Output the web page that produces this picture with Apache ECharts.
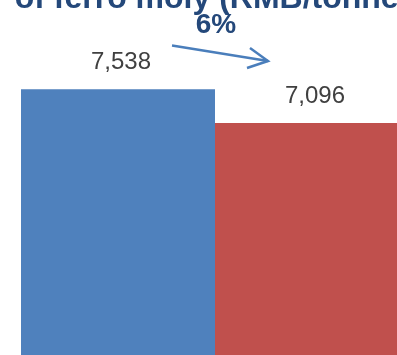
<!DOCTYPE html>
<html>
<head>
<meta charset="utf-8">
<script src="https://cdn.jsdelivr.net/npm/echarts@6/dist/echarts.min.js"></script>
<style>
  html, body { margin: 0; padding: 0; background: #fff; }
  #chart { width: 397px; height: 355px; }
</style>
</head>
<body>
<div id="chart"></div>
<script>
// Ferro moly price, two periods
const categories = ['Before', 'After'];
const prices = [7538, 7096];
const barColors = ['#4F81BD', '#C0504D'];
const changeLabel = '6%';
const titleText = 'of ferro moly (RMB/tonne)';

const navy = '#24487A';

const chart = echarts.init(document.getElementById('chart'), null, { renderer: 'canvas' });

chart.setOption({
  animation: false,
  backgroundColor: '#ffffff',
  // plot area runs past the right and bottom edges of the view
  grid: { left: 21, top: 54, width: 388, height: 610, outerBoundsMode: 'none' },
  xAxis: {
    type: 'category',
    data: categories,
    show: false
  },
  yAxis: {
    type: 'value',
    min: 0,
    max: 8000,
    show: false
  },
  series: [{
    type: 'bar',
    barWidth: '100%',
    clip: false,
    data: prices.map((v, i) => ({ value: v, itemStyle: { color: barColors[i] } })),
    label: {
      show: true,
      position: 'top',
      distance: 15,
      offset: [3, 0],
      color: '#404040',
      fontFamily: 'Liberation Sans, Arial, sans-serif',
      fontSize: 24,
      formatter: p => p.value.toLocaleString('en-US')
    }
  }],
  graphic: [
    {
      type: 'text',
      x: 212,
      y: -1,
      style: {
        text: titleText,
        fill: navy,
        font: 'bold 32px "Liberation Sans", Arial, sans-serif',
        textAlign: 'center',
        textVerticalAlign: 'middle'
      }
    },
    {
      type: 'text',
      x: 216,
      y: 25,
      style: {
        text: changeLabel,
        fill: navy,
        font: 'bold 28px "Liberation Sans", Arial, sans-serif',
        textAlign: 'center',
        textVerticalAlign: 'middle'
      }
    },
    // arrow showing the decline from the first to the second bar
    {
      type: 'polyline',
      shape: { points: [[172, 45.5], [268, 61]] },
      style: { stroke: '#4A7EBB', lineWidth: 2.5, fill: null }
    },
    {
      type: 'polyline',
      shape: { points: [[250, 48], [268, 61], [247, 68]] },
      style: { stroke: '#4A7EBB', lineWidth: 2.5, fill: null, lineJoin: 'miter' }
    }
  ]
});
</script>
</body>
</html>
